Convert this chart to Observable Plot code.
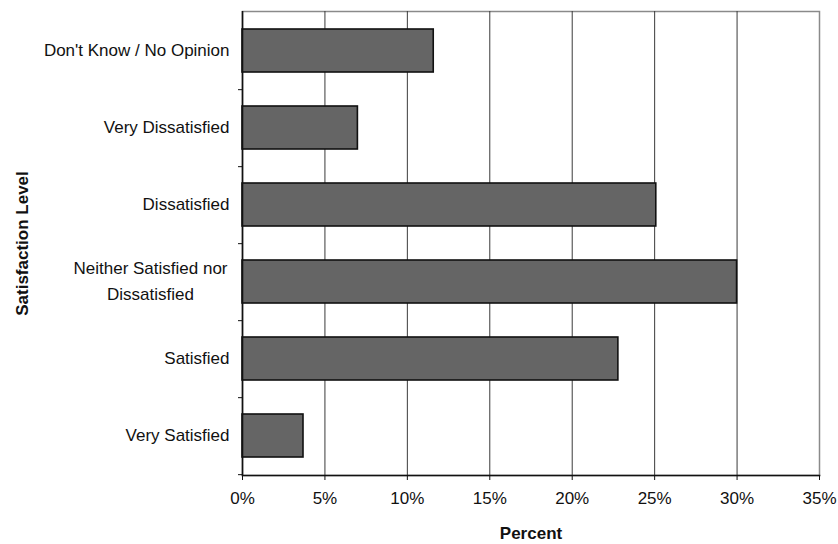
<!DOCTYPE html>
<html>
<head>
<meta charset="utf-8">
<script src="https://cdn.jsdelivr.net/npm/d3@7"></script>
<script src="https://cdn.jsdelivr.net/npm/@observablehq/plot@0.6"></script>
<style>
  html, body { margin: 0; padding: 0; background: #ffffff; }
  #chart svg { display: block; font-family: "Liberation Sans", Arial, sans-serif; }
</style>
</head>
<body>
<div id="chart"></div>
<script>
const categories = [
  "Don't Know / No Opinion",
  "Very Dissatisfied",
  "Dissatisfied",
  "Neither Satisfied nor\nDissatisfied",
  "Satisfied",
  "Very Satisfied"
];
const percents = [11.6, 7.0, 25.1, 30.0, 22.8, 3.7];
const xTicks = [0, 5, 10, 15, 20, 25, 30, 35];
const xTitle = "Percent";
const yTitle = "Satisfaction Level";

const data = categories.map((c, i) => ({cat: c, pct: percents[i]}));
const multiLine = categories.filter(c => c.includes("\n"));
const singleLine = categories.filter(c => !c.includes("\n"));

const W = 838, H = 544;
const mL = 242, mR = 19, mT = 11, mB = 69;
const step = (H - mT - mB) / categories.length;

const chart = Plot.plot({
  width: W,
  height: H,
  marginLeft: mL,
  marginRight: mR,
  marginTop: mT,
  marginBottom: mB,
  style: {fontSize: "17px", fontFamily: "'Liberation Sans', Arial, sans-serif", color: "#111", background: "#ffffff"},
  x: {domain: [0, 35], ticks: xTicks, label: null},
  y: {domain: categories, paddingInner: 0.44, paddingOuter: 0.22, label: null},
  marks: [
    Plot.frame({stroke: "#8a8a8a", strokeWidth: 1.5}),
    Plot.gridX(xTicks.slice(1, -1), {stroke: "#3a3a3a", strokeOpacity: 1, strokeWidth: 1}),
    Plot.barX(data, {x: "pct", y: "cat", fill: "#656565", stroke: "#111", strokeWidth: 1.6}),
    Plot.ruleX([0], {stroke: "#111", strokeWidth: 1.6}),
    Plot.frame({anchor: "bottom", stroke: "#111", strokeWidth: 1.6}),
    Plot.axisX(xTicks, {tickSize: 5, tickPadding: 11, tickFormat: d => d + "%", stroke: "#111", label: null, fontSize: 17}),
    Plot.axisY(categories, {tickSize: 4, text: null, dy: step / 2, stroke: "#111", label: null}),
    Plot.axisY(singleLine, {tickSize: 0, tickPadding: 13, label: null, fontSize: 17}),
    Plot.axisY(multiLine, {tickSize: 0, tickPadding: 13, textAnchor: "middle", dx: -79, dy: -3, lineHeight: 1.5, label: null, fontSize: 17}),
    Plot.text([xTitle], {frameAnchor: "bottom", dy: 63, fontWeight: "bold", fontSize: 17, letterSpacing: "0.8px", fill: "#111"}),
    Plot.text([yTitle], {frameAnchor: "left", dx: -220, rotate: -90, textAnchor: "middle", fontWeight: "bold", fontSize: 17, fill: "#111"})
  ]
});
document.getElementById("chart").appendChild(chart);
</script>
</body>
</html>
